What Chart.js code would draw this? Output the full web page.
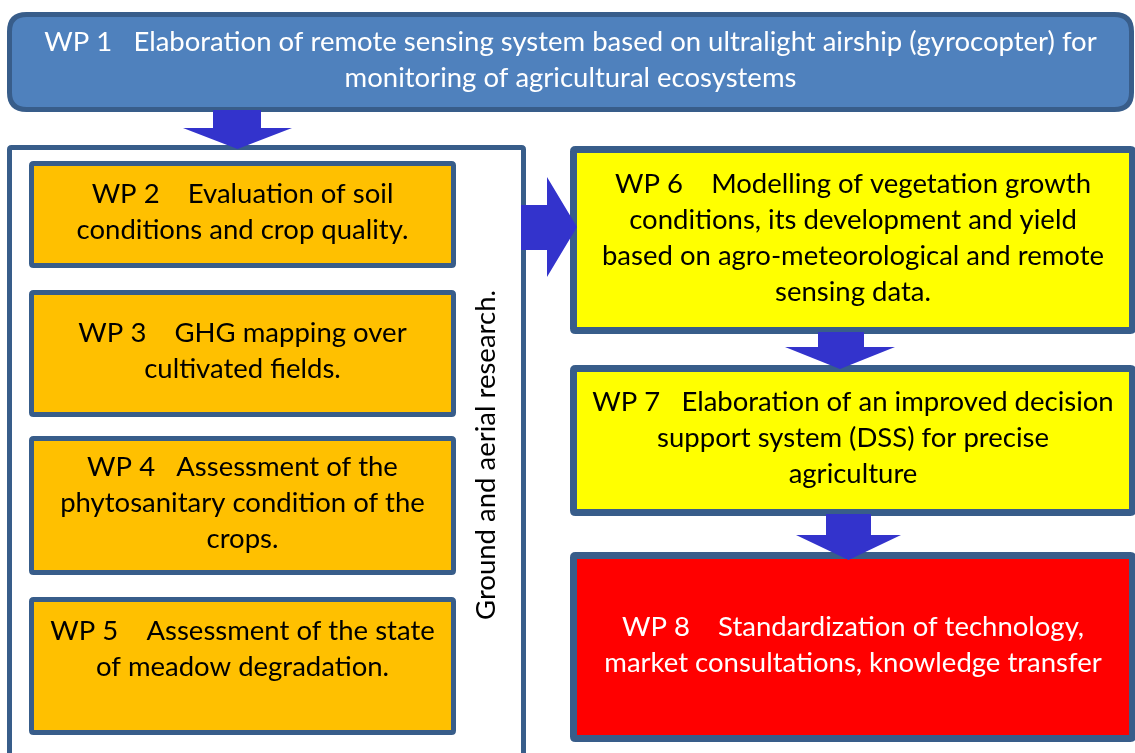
<!DOCTYPE html>
<html>
<head>
<meta charset="utf-8">
<script src="https://cdn.jsdelivr.net/npm/chart.js@4.4.1/dist/chart.umd.min.js"></script>
<style>
  html, body { margin: 0; padding: 0; background: #ffffff; }
  #wrap { width: 1135px; height: 753px; }
</style>
</head>
<body>
<div id="wrap"><canvas id="flow"></canvas></div>
<script>
// work packages, texts as they appear in the picture
const wpIds = ['WP 1', 'WP 2', 'WP 3', 'WP 4', 'WP 5', 'WP 6', 'WP 7', 'WP 8'];
const wpLines = [
    ['WP 1   Elaboration of remote sensing system based on ultralight airship (gyrocopter) for', 'monitoring of agricultural ecosystems'],
    ['WP 2    Evaluation of soil', 'conditions and crop quality.'],
    ['WP 3    GHG mapping over', 'cultivated fields.'],
    ['WP 4   Assessment of the', 'phytosanitary condition of the', 'crops.'],
    ['WP 5    Assessment of the state', 'of meadow degradation.'],
    ['WP 6    Modelling of vegetation growth', 'conditions, its development and yield', 'based on agro-meteorological and remote', 'sensing data.'],
    ['WP 7   Elaboration of an improved decision', 'support system (DSS) for precise', 'agriculture'],
    ['WP 8    Standardization of technology,', 'market consultations, knowledge transfer']
];
const groupLabel = 'Ground and aerial research.';
// links between packages: [from, to]
const links = [['WP 1', 'WP 2'], ['WP 2', 'WP 6'], ['WP 6', 'WP 7'], ['WP 7', 'WP 8']];

// layout of the boxes in canvas units (x0, x1, y0, y1)
const layout = {
    'WP 1': { x0: 7, x1: 1134, y0: 12, y1: 112, fill: '#4f81bd', text: '#ffffff', lw: 5, r: 17 },
    'WP 2': { x0: 29, x1: 456, y0: 161, y1: 268, fill: '#ffc000', text: '#000000', lw: 5, r: 2 },
    'WP 3': { x0: 29, x1: 456, y0: 290, y1: 417, fill: '#ffc000', text: '#000000', lw: 5, r: 2 },
    'WP 4': { x0: 29, x1: 456, y0: 436, y1: 575, fill: '#ffc000', text: '#000000', lw: 5, r: 2 },
    'WP 5': { x0: 29, x1: 456, y0: 597, y1: 735, fill: '#ffc000', text: '#000000', lw: 5, r: 2, top: 631 },
    'WP 6': { x0: 570, x1: 1136, y0: 146, y1: 334, fill: '#ffff00', text: '#000000', lw: 7, r: 2 },
    'WP 7': { x0: 570, x1: 1136, y0: 365, y1: 516, fill: '#ffff00', text: '#000000', lw: 7, r: 2 },
    'WP 8': { x0: 570, x1: 1136, y0: 552, y1: 742, fill: '#ff0000', text: '#ffffff', lw: 7, r: 2 }
};
const groupBox = { x0: 7, x1: 526, y0: 145, y1: 770, lw: 5, labelX: 486 };
// arrow shapes: stem x/y, head width and tip
const arrowShapes = [
    { dir: 'down', s0: 213, s1: 261, a: 110, b: 128, h0: 183, h1: 292, tip: 149 },
    { dir: 'right', s0: 205, s1: 250, a: 521, b: 547, h0: 177, h1: 277, tip: 577 },
    { dir: 'down', s0: 818, s1: 864, a: 332, b: 347, h0: 785, h1: 895, tip: 369 },
    { dir: 'down', s0: 826, s1: 871, a: 514, b: 535, h0: 796, h1: 901, tip: 560 }
];

const borderColor = '#385d8a';
const arrowColor = '#3333cc';
const fontFamily = 'Lato, "Open Sans", sans-serif';
const fontSize = 27.5;
const lineGap = 36;
const textShift = -2;

function roundRect(ctx, x, y, w, h, r) {
    ctx.beginPath();
    ctx.moveTo(x + r, y);
    ctx.lineTo(x + w - r, y);
    ctx.quadraticCurveTo(x + w, y, x + w, y + r);
    ctx.lineTo(x + w, y + h - r);
    ctx.quadraticCurveTo(x + w, y + h, x + w - r, y + h);
    ctx.lineTo(x + r, y + h);
    ctx.quadraticCurveTo(x, y + h, x, y + h - r);
    ctx.lineTo(x, y + r);
    ctx.quadraticCurveTo(x, y, x + r, y);
    ctx.closePath();
}

const flowPlugin = {
    id: 'flowPlugin',
    afterDatasetsDraw(chart) {
        const ctx = chart.ctx;
        const xs = chart.scales.x;
        const ys = chart.scales.y;
        const px = v => xs.getPixelForValue(v);
        const py = v => ys.getPixelForValue(v);

        function box(b, fill) {
            const x = px(b.x0) + b.lw / 2, y = py(b.y0) + b.lw / 2;
            const w = px(b.x1) - px(b.x0) - b.lw, h = py(b.y1) - py(b.y0) - b.lw;
            roundRect(ctx, x, y, w, h, b.r || 2);
            ctx.fillStyle = fill;
            ctx.fill();
            ctx.lineWidth = b.lw;
            ctx.strokeStyle = borderColor;
            ctx.lineJoin = 'round';
            ctx.stroke();
        }

        ctx.save();
        // group frame of the ground/aerial packages
        box(groupBox, '#ffffff');
        ctx.save();
        ctx.translate(px(groupBox.labelX), py(455));
        ctx.rotate(-Math.PI / 2);
        ctx.font = fontSize + 'px ' + fontFamily;
        ctx.fillStyle = '#000000';
        ctx.textAlign = 'center';
        ctx.textBaseline = 'middle';
        ctx.fillText(groupLabel, 0, 0);
        ctx.restore();

        wpIds.forEach((id, i) => {
            const b = layout[id];
            box(b, b.fill);
            const lines = wpLines[i];
            const cx = px((b.x0 + b.x1) / 2);
            let y0;
            if (b.top) {
                y0 = py(b.top);
            } else {
                y0 = (py(b.y0) + py(b.y1)) / 2 - (lines.length - 1) * lineGap / 2 + textShift;
            }
            ctx.font = fontSize + 'px ' + fontFamily;
            ctx.fillStyle = b.text;
            ctx.textAlign = 'center';
            ctx.textBaseline = 'middle';
            lines.forEach((t, k) => ctx.fillText(t, cx, y0 + k * lineGap));
        });

        // arrows
        ctx.fillStyle = arrowColor;
        arrowShapes.forEach(a => {
            ctx.beginPath();
            const mid = (a.h0 + a.h1) / 2;
            if (a.dir === 'down') {
                ctx.moveTo(px(a.s0), py(a.a));
                ctx.lineTo(px(a.s1), py(a.a));
                ctx.lineTo(px(a.s1), py(a.b));
                ctx.lineTo(px(a.h1), py(a.b));
                ctx.lineTo(px(mid), py(a.tip));
                ctx.lineTo(px(a.h0), py(a.b));
                ctx.lineTo(px(a.s0), py(a.b));
            } else {
                ctx.moveTo(px(a.a), py(a.s0));
                ctx.lineTo(px(a.b), py(a.s0));
                ctx.lineTo(px(a.b), py(a.h0));
                ctx.lineTo(px(a.tip), py(mid));
                ctx.lineTo(px(a.b), py(a.h1));
                ctx.lineTo(px(a.b), py(a.s1));
                ctx.lineTo(px(a.a), py(a.s1));
            }
            ctx.closePath();
            ctx.fill();
        });
        ctx.restore();
    }
};

// one invisible anchor point per package, at the centre of its box
const anchors = wpIds.map(id => ({
    x: (layout[id].x0 + layout[id].x1) / 2,
    y: (layout[id].y0 + layout[id].y1) / 2
}));

new Chart(document.getElementById('flow'), {
    type: 'scatter',
    data: {
        datasets: [{
            label: 'packages',
            data: anchors,
            pointRadius: 0,
            pointHoverRadius: 0
        }]
    },
    options: {
        responsive: true,
        maintainAspectRatio: false,
        animation: false,
        layout: { padding: 0 },
        scales: {
            x: { type: 'linear', min: 0, max: 1135, display: false },
            y: { type: 'linear', min: 0, max: 753, reverse: true, display: false }
        },
        plugins: {
            legend: { display: false },
            tooltip: { enabled: false }
        }
    },
    plugins: [flowPlugin]
});
</script>
</body>
</html>
